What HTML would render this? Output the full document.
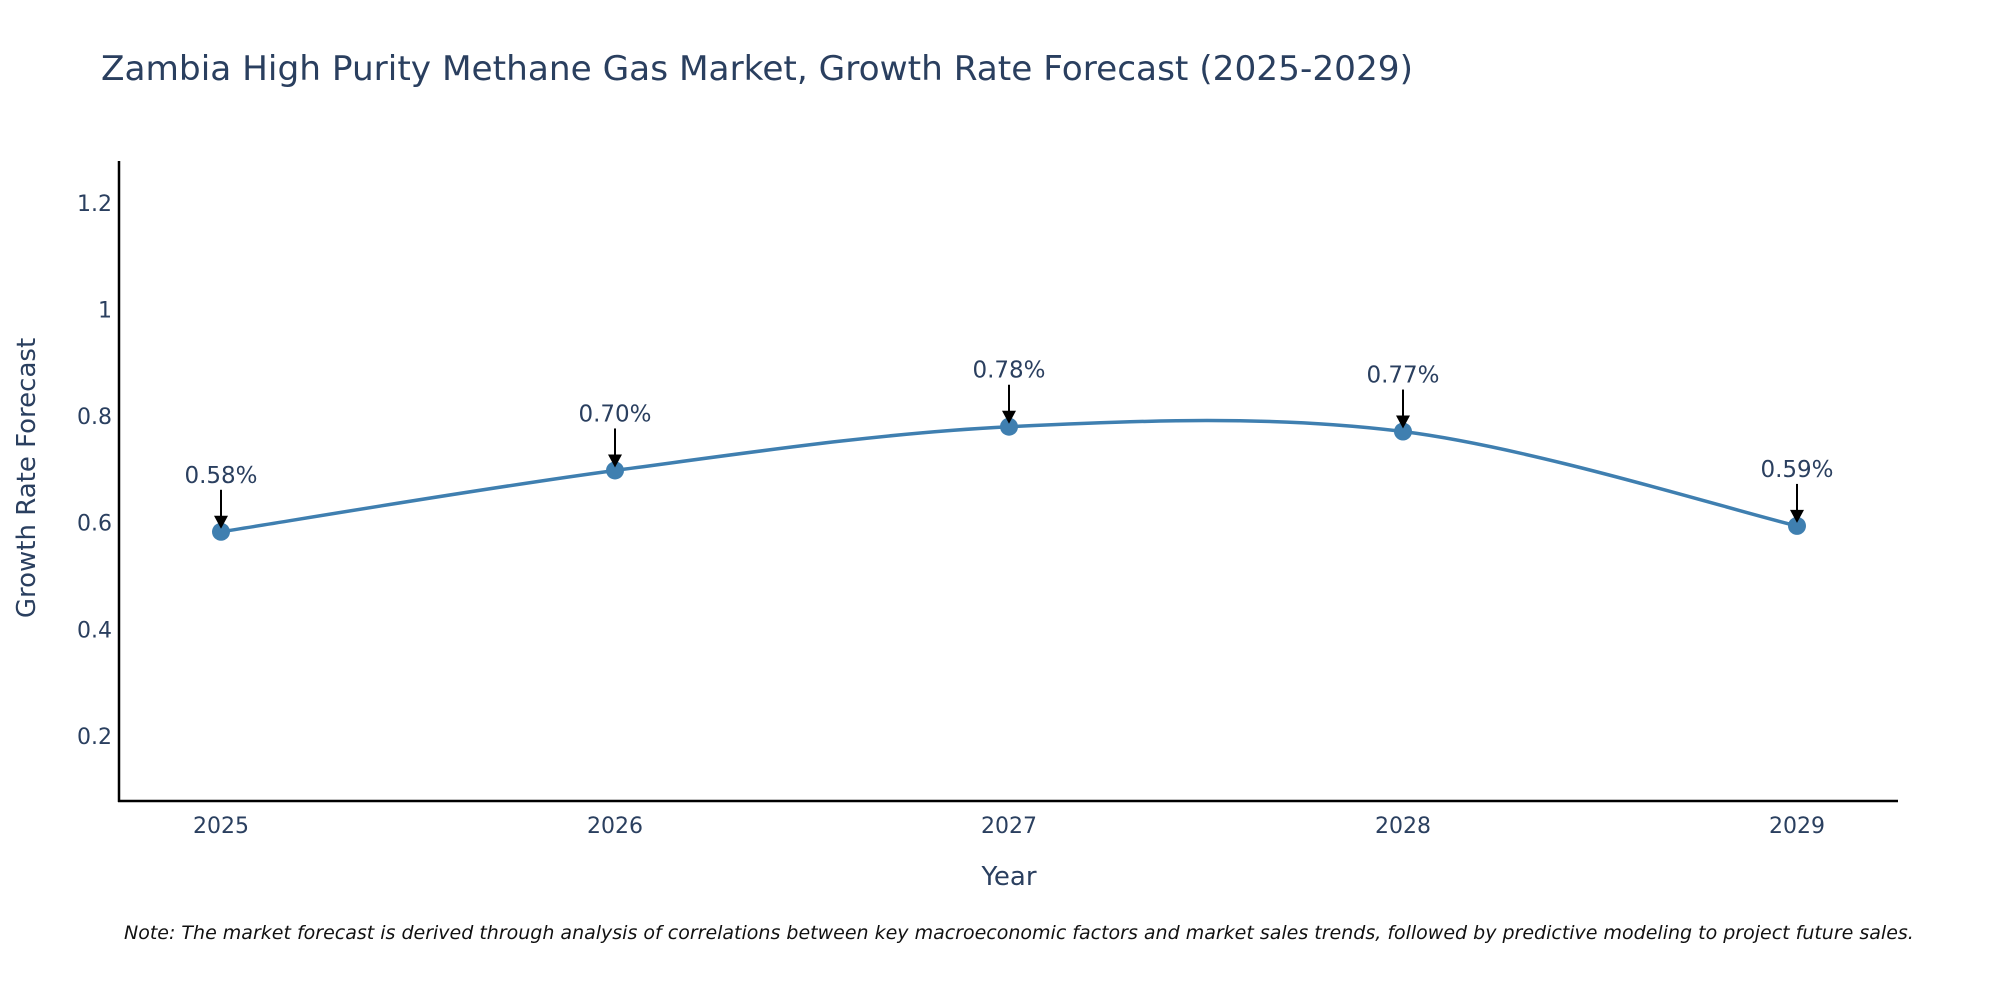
<!DOCTYPE html>
<html><head><meta charset="utf-8"><style>
html,body{margin:0;padding:0;background:#fff;}
svg{display:block;font-family:"DejaVu Sans","Liberation Sans",sans-serif;}
</style></head><body>
<svg id="chart" width="2000" height="1000" viewBox="0 0 2000 1000">
<text x="101" y="80" font-size="34" fill="#2a3f5f" textLength="1312" lengthAdjust="spacingAndGlyphs">Zambia High Purity Methane Gas Market, Growth Rate Forecast (2025-2029)</text>
<g id="plot"></g>
<line x1="119" y1="161" x2="119" y2="802" stroke="#000" stroke-width="2.5"/>
<line x1="118" y1="801" x2="1898" y2="801" stroke="#000" stroke-width="2.5"/>
<text x="1009" y="885" font-size="26" fill="#2a3f5f" text-anchor="middle">Year</text>
<text transform="translate(35,478) rotate(-90)" font-size="26" fill="#2a3f5f" text-anchor="middle">Growth Rate Forecast</text>
<text x="124" y="939" font-size="19" font-style="italic" fill="#111">Note: The market forecast is derived through analysis of correlations between key macroeconomic factors and market sales trends, followed by predictive modeling to project future sales.</text>
</svg>
<script>
const years = [2025, 2026, 2027, 2028, 2029];
const values = [0.583, 0.698, 0.780, 0.771, 0.594];
const labels = ["0.58%", "0.70%", "0.78%", "0.77%", "0.59%"];
const yTicks = [0.2, 0.4, 0.6, 0.8, 1, 1.2];
const yTickLabels = ["0.2", "0.4", "0.6", "0.8", "1", "1.2"];

const NS = "http://www.w3.org/2000/svg";
const g = document.getElementById('plot');
function xs(v){ return 221 + (v - 2025) * (1797 - 221) / 4; }
function ys(v){ return 736 - (v - 0.2) * 533.2; }
function mk(tag, attrs, parent){ const e = document.createElementNS(NS, tag); for (const k in attrs) e.setAttribute(k, attrs[k]); (parent||g).appendChild(e); return e; }

yTicks.forEach((t, i) => {
  const e = mk('text', {x: 112, y: ys(t) + 8, 'font-size': 22, fill: '#2a3f5f', 'text-anchor': 'end'});
  
  
  e.textContent = yTickLabels[i];
});
years.forEach(y => {
  const e = mk('text', {x: xs(y), y: 833, 'font-size': 22, fill: '#2a3f5f', 'text-anchor': 'middle'});
  
  
  e.textContent = String(y);
});

const pts = years.map((y, i) => [xs(y), ys(values[i])]);
let d = `M${pts[0][0]},${pts[0][1]}`;
const tcoef = 0.5;
for (let i = 0; i < pts.length - 1; i++) {
  const p0 = pts[Math.max(i-1,0)], p1 = pts[i], p2 = pts[i+1], p3 = pts[Math.min(i+2, pts.length-1)];
  const c1 = [p1[0] + (p2[0]-p0[0]) * tcoef/3, p1[1] + (p2[1]-p0[1]) * tcoef/3];
  const c2 = [p2[0] - (p3[0]-p1[0]) * tcoef/3, p2[1] - (p3[1]-p1[1]) * tcoef/3];
  d += ` C${c1[0]},${c1[1]} ${c2[0]},${c2[1]} ${p2[0]},${p2[1]}`;
}
const line = mk('path', {d: d, fill: 'none', stroke: '#3f7fb0', 'stroke-width': 3.5});



pts.forEach((p, i) => {
  const c = mk('circle', {cx: p[0], cy: p[1], r: 9, fill: '#3f7fb0'});
  
  
  const a = mk('line', {x1: p[0], y1: p[1] - 42, x2: p[0], y2: p[1] - 14, stroke: '#000', 'stroke-width': 2});
  
  
  const h = mk('path', {d: `M${p[0]-7},${p[1]-16} L${p[0]+7},${p[1]-16} L${p[0]},${p[1]-3} Z`, fill: '#000'});
  
  
  const t = mk('text', {x: p[0], y: p[1] - 49, 'font-size': 23, fill: '#2a3f5f', 'text-anchor': 'middle'});
  
  
  t.textContent = labels[i];
});
</script>
</body></html>
